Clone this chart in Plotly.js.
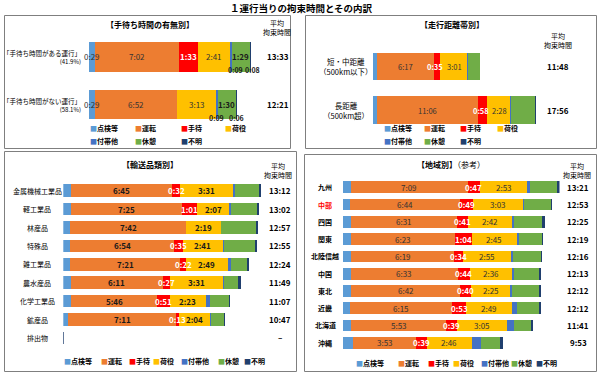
<!DOCTYPE html>
<html><head><meta charset="utf-8">
<script src="https://cdn.plot.ly/plotly-3.0.1.min.js"></script>
<style>html,body{margin:0;padding:0;background:#fff}#chart{width:600px;height:375px}</style>
</head><body><div id="chart"></div>
<script>
// ---- series ----
const seriesNames = ['点検等','運転','手待','荷役','付帯他','休憩','不明'];
const seriesColors = ['#5B9BD5','#ED7D31','#FF0000','#FFC000','#4472C4','#70AD47','#203F6E'];

// ---- 手待ち時間の有無別 ----
const catsTL = ['「手待ち時間がある運行」','「手待ち時間がない運行」'];
const shareTL = ['(41.9%)','(58.1%)'];
const totalTL = ['13:33','12:21'];
const tlInspect = ['0:29','0:29'];
const tlDrive   = ['7:02','6:52'];
const tlWait    = ['1:33','0:00'];
const tlHandle  = ['2:41','3:13'];
const tlAux     = ['0:09','0:09'];
const tlRest    = ['1:29','1:30'];
const tlUnknown = ['0:08','0:06'];

// ---- 走行距離帯別 ----
const catsTR = ['短・中距離','長距離'];
const subTR = ['（500km以下）','（500km超）'];
const totalTR = ['11:48','17:56'];
const trInspect = ['0:28','0:28'];
const trDrive   = ['6:17','11:06'];
const trWait    = ['0:35','0:58'];
const trHandle  = ['3:01','2:28'];
const trAux     = ['0:06','0:07'];
const trRest    = ['1:17','2:41'];
const trUnknown = ['0:04','0:08'];

// ---- 輸送品類別 ----
const catsBL = ['金属機械工業品','軽工業品','林産品','特殊品','雑工業品','農水産品','化学工業品','鉱産品','排出物'];
const totalBL = ['13:12','13:02','12:57','12:55','12:24','11:49','11:07','10:47','–'];
const blInspect = ['0:30','0:30','0:28','0:28','0:27','0:29','0:30','0:20','0:00'];
const blDrive   = ['6:45','7:25','7:42','6:54','7:21','6:11','5:46','7:11','0:00'];
const blWait    = ['0:32','1:01','0:00','0:35','0:22','0:27','0:51','0:13','0:00'];
const blHandle  = ['3:31','2:07','2:19','2:41','2:49','3:31','2:23','2:04','0:00'];
const blAux     = ['0:08','0:06','0:02','0:05','0:13','0:05','0:15','0:02','0:00'];
const blRest    = ['1:38','1:44','2:19','2:04','1:04','0:57','1:16','0:53','0:00'];
const blUnknown = ['0:08','0:09','0:07','0:08','0:08','0:09','0:06','0:04','0:04'];

// ---- 地域別（参考） ----
const catsBR = ['九州','中部','四国','関東','北陸信越','中国','東北','近畿','北海道','沖縄'];
const highlightBR = ['中部'];
const totalBR = ['13:21','12:53','12:25','12:19','12:16','12:13','12:12','12:12','11:41','9:53'];
const brInspect = ['0:32','0:28','0:30','0:30','0:32','0:31','0:31','0:28','0:30','0:38'];
const brDrive   = ['7:09','6:44','6:31','6:23','6:19','6:33','6:42','6:15','5:53','3:53'];
const brWait    = ['0:47','0:49','0:41','1:04','0:34','0:44','0:40','0:53','0:39','0:39'];
const brHandle  = ['2:53','3:03','2:42','2:45','2:55','2:36','2:25','2:49','3:05','2:46'];
const brAux     = ['0:10','0:06','0:09','0:10','0:09','0:09','0:06','0:17','0:24','0:34'];
const brRest    = ['1:40','1:38','1:42','1:22','1:42','1:32','1:40','1:22','1:05','1:12'];
const brUnknown = ['0:10','0:05','0:10','0:05','0:05','0:08','0:08','0:08','0:05','0:11'];

// ---- helpers ----
const W = 600, H = 375;
const px = v => v / W;
const py = v => 1 - v / H;
const toMin = s => { const p = s.split(':'); return (+p[0]) * 60 + (+p[1]); };
const FONT = '"Noto Sans CJK JP", "Noto Sans", sans-serif';

const dark = {color:'#333333', weight:'normal'};
const darkB = {color:'#1a1a1a', weight:'bold'};
const white = {color:'#ffffff', weight:'bold'};

const panels = [
  {cats: catsTL, data: [tlInspect,tlDrive,tlWait,tlHandle,tlAux,tlRest,tlUnknown], xa:'x', ya:'y', width:0.62, size:8,
   styles: {0:dark, 1:dark, 2:white, 3:dark, 5:darkB}, shift:{}},
  {cats: catsTR, data: [trInspect,trDrive,trWait,trHandle,trAux,trRest,trUnknown], xa:'x2', ya:'y2', width:0.62, size:7.5,
   styles: {1:dark, 2:white, 3:dark}, shift:{2:-2, 3:1}},
  {cats: catsBL, data: [blInspect,blDrive,blWait,blHandle,blAux,blRest,blUnknown], xa:'x3', ya:'y3', width:0.68, size:8,
   styles: {1:darkB, 2:white, 3:darkB}, shift:{}},
  {cats: catsBR, data: [brInspect,brDrive,brWait,brHandle,brAux,brRest,brUnknown], xa:'x4', ya:'y4', width:0.68, size:8,
   styles: {1:dark, 2:white, 3:dark}, shift:{}}
];

const traces = [];
const ann = [];
panels.forEach(p => {
  p.data.forEach((arr, i) => {
    traces.push({
      type:'bar', orientation:'h', name: seriesNames[i],
      y: p.cats, x: arr.map(toMin), xaxis: p.xa, yaxis: p.ya,
      width: p.width,
      marker: {color: seriesColors[i], line: {width: 0}},
      showlegend: false, hoverinfo: 'skip'
    });
  });
  // segment value labels, placed at the middle of each segment (drawn above all bars)
  p.cats.forEach((c, k) => {
    const vals = p.data.map(a => toMin(a[k]));
    Object.keys(p.styles).forEach(key => {
      const i = +key, st = p.styles[i];
      if (vals[i] <= 0) return;
      const before = vals.slice(0, i).reduce((s, v) => s + v, 0);
      ann.push({xref: p.xa, yref: p.ya, x: before + vals[i] / 2, y: c, xshift: p.shift[i] || 0,
        showarrow:false, xanchor:'center', yanchor:'middle', text: p.data[i][k],
        font:{size: p.size, color: st.color, weight: st.weight, family: FONT}});
    });
  });
});

const txt = (x, y, text, size, opt) => Object.assign({
  xref:'paper', yref:'paper', x: px(x), y: py(y), text, showarrow:false,
  xanchor:'center', yanchor:'middle', font:{size, color:'#000', family: FONT}
}, opt || {});

// panel titles
ann.push(txt(150, 25, '【手待ち時間の有無別】', 8, {font:{size:8, weight:'bold', family:FONT, color:'#000'}}));
ann.push(txt(452, 25, '【走行距離帯別】', 8, {font:{size:8, weight:'bold', family:FONT, color:'#000'}}));
ann.push(txt(150, 165, '【輸送品類別】', 8, {font:{size:8, weight:'bold', family:FONT, color:'#000'}}));
ann.push(txt(451, 165, '<b>【地域別】</b>（参考）', 8));
// headers
ann.push(txt(277, 28, '平均<br>拘束時間', 7));
ann.push(txt(558, 41, '平均<br>拘束時間', 7));
ann.push(txt(278, 171, '平均<br>拘束時間', 7));
ann.push(txt(577, 171, '平均<br>拘束時間', 7));

// category labels
catsTL.forEach((c, k) => ann.push({xref:'paper', yref:'y', x: px(83), y: c, xanchor:'right', yanchor:'middle', align:'right', showarrow:false,
  text: c + '<br><span style="font-size:6px">' + shareTL[k] + '</span>', font:{size:6.5, color:'#000', family:FONT}}));
catsTR.forEach((c, k) => ann.push({xref:'paper', yref:'y2', x: px(346), y: c, xanchor:'center', yanchor:'middle', align:'center', showarrow:false,
  text: c + '<br>' + subTR[k], font:{size:7.5, color:'#000', family:FONT}}));
catsBL.forEach(c => ann.push({xref:'paper', yref:'y3', x: px(37), y: c, xanchor:'center', yanchor:'middle', showarrow:false,
  text: c, font:{size:7, color:'#000', family:FONT}}));
catsBR.forEach(c => ann.push({xref:'paper', yref:'y4', x: px(325), y: c, xanchor:'center', yanchor:'middle', showarrow:false,
  text: c, font:{size:7, weight:'bold', color: highlightBR.includes(c) ? '#FF0000' : '#000', family:FONT}}));

// totals
const addTotals = (cats, tots, yref, x) => cats.forEach((c, k) => ann.push({xref:'paper', yref, x: px(x), y: c,
  xanchor:'center', yanchor:'middle', showarrow:false, text: tots[k], font:{size:8, weight:'bold', color:'#000', family:FONT}}));
addTotals(catsTL, totalTL, 'y', 278);
addTotals(catsTR, totalTR, 'y2', 558);
addTotals(catsBL, totalBL, 'y3', 280);
addTotals(catsBR, totalBR, 'y4', 578);

// small segment labels below bars (手待ち時間の有無別)
catsTL.forEach((c, k) => {
  const vals = panels[0].data.map(a => toMin(a[k]));
  [4, 6].forEach(i => {
    const before = vals.slice(0, i).reduce((s, v) => s + v, 0);
    ann.push({xref:'x', yref:'y', x: before + vals[i] / 2, y: c, yshift: -13,
      xshift: (k === 0) ? (i === 4 ? 5 : 2) : 0,
      showarrow:false, xanchor:'center', yanchor:'middle',
      text: panels[0].data[i][k], font:{size:7, weight:'bold', color:'#1a1a1a', family:FONT}});
  });
});

// legends
const legendItem = (x, y, i) => txt(x, y, '<span style="color:' + seriesColors[i] + '">■</span>' + seriesNames[i], 7,
  {xanchor:'left', font:{size:7, weight:'bold', color:'#000', family:FONT}});
[88,133,179,223].forEach((x, i) => ann.push(legendItem(x, 128, i)));
[88,133,179].forEach((x, i) => ann.push(legendItem(x, 141, i + 4)));
[382,422,458,495].forEach((x, i) => ann.push(legendItem(x, 128, i)));
[382,422,458].forEach((x, i) => ann.push(legendItem(x, 141, i + 4)));
[62,99,127,151,179,216,242].forEach((x, i) => ann.push(legendItem(x, 361, i)));
[354,396,426,451,479,509,534].forEach((x, i) => ann.push(legendItem(x, 363, i)));

const box = (x0, y0, x1, y1) => ({type:'rect', xref:'paper', yref:'paper', x0: px(x0), x1: px(x1), y0: py(y1), y1: py(y0),
  line:{color:'#7f7f7f', width:1}, fillcolor:'rgba(0,0,0,0)'});

const hid = {visible:false, fixedrange:true};
const layout = {
  width: W, height: H, margin:{l:0, r:0, t:0, b:0},
  paper_bgcolor:'#fff', plot_bgcolor:'rgba(0,0,0,0)',
  font:{family: FONT, size: 8, color:'#000'},
  barmode:'stack', showlegend:false,
  title:{text:'１運行当りの拘束時間とその内訳', x: px(301), xanchor:'center', y: py(9), yanchor:'middle',
    font:{size:9.5, weight:'bold', family: FONT, color:'#000'}},
  xaxis:  Object.assign({domain:[px(89), px(289)], range:[0, 1000], anchor:'y'}, hid),
  yaxis:  Object.assign({domain:[py(128.5), py(33)], type:'category', categoryorder:'array', categoryarray: catsTL, range:[1.5, -0.5], anchor:'x'}, hid),
  xaxis2: Object.assign({domain:[px(372.7), px(585.5)], range:[0, 1400], anchor:'y2'}, hid),
  yaxis2: Object.assign({domain:[py(131.9), py(44.3)], type:'category', categoryorder:'array', categoryarray: catsTR, range:[1.5, -0.5], anchor:'x2'}, hid),
  xaxis3: Object.assign({domain:[px(63.3), px(288.3)], range:[0, 900], anchor:'y3'}, hid),
  yaxis3: Object.assign({domain:[py(347.1), py(181.5)], type:'category', categoryorder:'array', categoryarray: catsBL, range:[8.5, -0.5], anchor:'x3'}, hid),
  xaxis4: Object.assign({domain:[px(342.7), px(559.5)], range:[0, 800], anchor:'y4'}, hid),
  yaxis4: Object.assign({domain:[py(351.3), py(178.7)], type:'category', categoryorder:'array', categoryarray: catsBR, range:[9.5, -0.5], anchor:'x4'}, hid),
  shapes: [box(4.5, 15.5, 290.5, 148.5), box(305.5, 15.5, 596.5, 148.5), box(4.5, 151.5, 296.5, 371.5), box(304.5, 154.5, 596.5, 371.5)],
  annotations: ann
};

Plotly.newPlot('chart', traces, layout, {staticPlot:true, displayModeBar:false});
</script>
</body></html>
